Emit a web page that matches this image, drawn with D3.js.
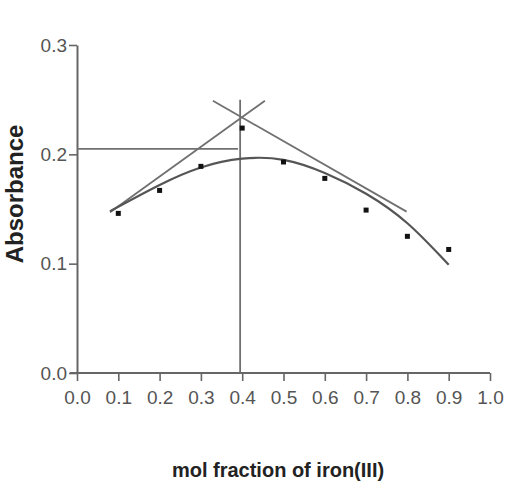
<!DOCTYPE html>
<html>
<head>
<meta charset="utf-8">
<script src="https://cdn.jsdelivr.net/npm/d3@7"></script>
<style>
  html, body { margin: 0; padding: 0; background: #fff; }
  svg { display: block; }
</style>
</head>
<body>
<script>
// ---- data ----
const molFraction = [0.1, 0.2, 0.3, 0.4, 0.5, 0.6, 0.7, 0.8, 0.9];
const absorbance = [0.146, 0.167, 0.189, 0.224, 0.193, 0.178, 0.149, 0.125, 0.113];
const fitX = [0.08, 0.2, 0.3, 0.4, 0.5, 0.6, 0.7, 0.8, 0.9];
const fitY = [0.148, 0.172, 0.188, 0.196, 0.195, 0.183, 0.164, 0.137, 0.099];
const risingLine = [[0.08, 0.147], [0.455, 0.249]];
const fallingLine = [[0.329, 0.249], [0.798, 0.1476]];
const verticalLine = [[0.395, 0.0], [0.395, 0.25]];
const horizontalLine = [[0.0, 0.205], [0.39, 0.205]];
const xTicks = [0.0, 0.1, 0.2, 0.3, 0.4, 0.5, 0.6, 0.7, 0.8, 0.9, 1.0];
const yTicks = [0.0, 0.1, 0.2, 0.3];
const xTitle = "mol fraction of iron(III)";
const yTitle = "Absorbance";

// ---- layout ----
const W = 514, H = 494;
const svg = d3.select("body").append("svg").attr("width", W).attr("height", H);

const x = d3.scaleLinear().domain([0, 1]).range([77, 490]);
const y = d3.scaleLinear().domain([0, 0.3]).range([373, 45]);

const axisColor = "#666";
const lineColor = "#707070";

// axes
const xAxis = svg.append("g").attr("transform", `translate(0,${y(0)})`)
  .call(d3.axisBottom(x).tickValues(xTicks).tickFormat(d3.format(".1f"))
    .tickSize(8).tickSizeOuter(0).tickPadding(3));
const yAxis = svg.append("g").attr("transform", `translate(${x(0)},0)`)
  .call(d3.axisLeft(y).tickValues(yTicks).tickFormat(d3.format(".1f"))
    .tickSize(8).tickSizeOuter(0).tickPadding(2));

[xAxis, yAxis].forEach(g => {
  g.select(".domain").attr("stroke", axisColor).attr("stroke-width", 2);
  g.selectAll(".tick line").attr("stroke", axisColor).attr("stroke-width", 1.6);
  g.selectAll(".tick text")
    .attr("fill", "#555")
    .style("font-family", "'Liberation Sans', Arial, sans-serif")
    .style("font-size", "19px");
});
// extend x-axis domain slightly left of y axis like reference
xAxis.select(".domain").attr("d", `M${x(0) - 7},0H${x(1)}`);
xAxis.selectAll(".tick text").attr("dy", "1.05em");

// reference lines
const line = d3.line().x(d => x(d[0])).y(d => y(d[1]));
[verticalLine, horizontalLine, risingLine, fallingLine].forEach(seg => {
  svg.append("path").attr("d", line(seg))
    .attr("fill", "none").attr("stroke", lineColor).attr("stroke-width", 1.8);
});

// fitted curve
const fitPts = fitX.map((v, i) => [v, fitY[i]]);
svg.append("path")
  .attr("d", d3.line().x(d => x(d[0])).y(d => y(d[1])).curve(d3.curveNatural)(fitPts))
  .attr("fill", "none").attr("stroke", "#555").attr("stroke-width", 2.2);

// data points
svg.selectAll("rect.pt").data(molFraction).enter().append("rect")
  .attr("class", "pt")
  .attr("x", d => x(d) - 2.5)
  .attr("y", (d, i) => y(absorbance[i]) - 2.5)
  .attr("width", 5).attr("height", 5)
  .attr("fill", "#111");

// titles
svg.append("text")
  .attr("transform", `translate(23,${194}) rotate(-90)`)
  .attr("text-anchor", "middle")
  .attr("fill", "#222")
  .style("font-family", "'Liberation Sans', Arial, sans-serif")
  .style("font-weight", "bold")
  .style("font-size", "24px")
  .text(yTitle);

svg.append("text")
  .attr("x", 278).attr("y", 477)
  .attr("text-anchor", "middle")
  .attr("fill", "#222")
  .style("font-family", "'Liberation Sans', Arial, sans-serif")
  .style("font-weight", "bold")
  .style("font-size", "20px")
  .text(xTitle);
</script>
</body>
</html>
